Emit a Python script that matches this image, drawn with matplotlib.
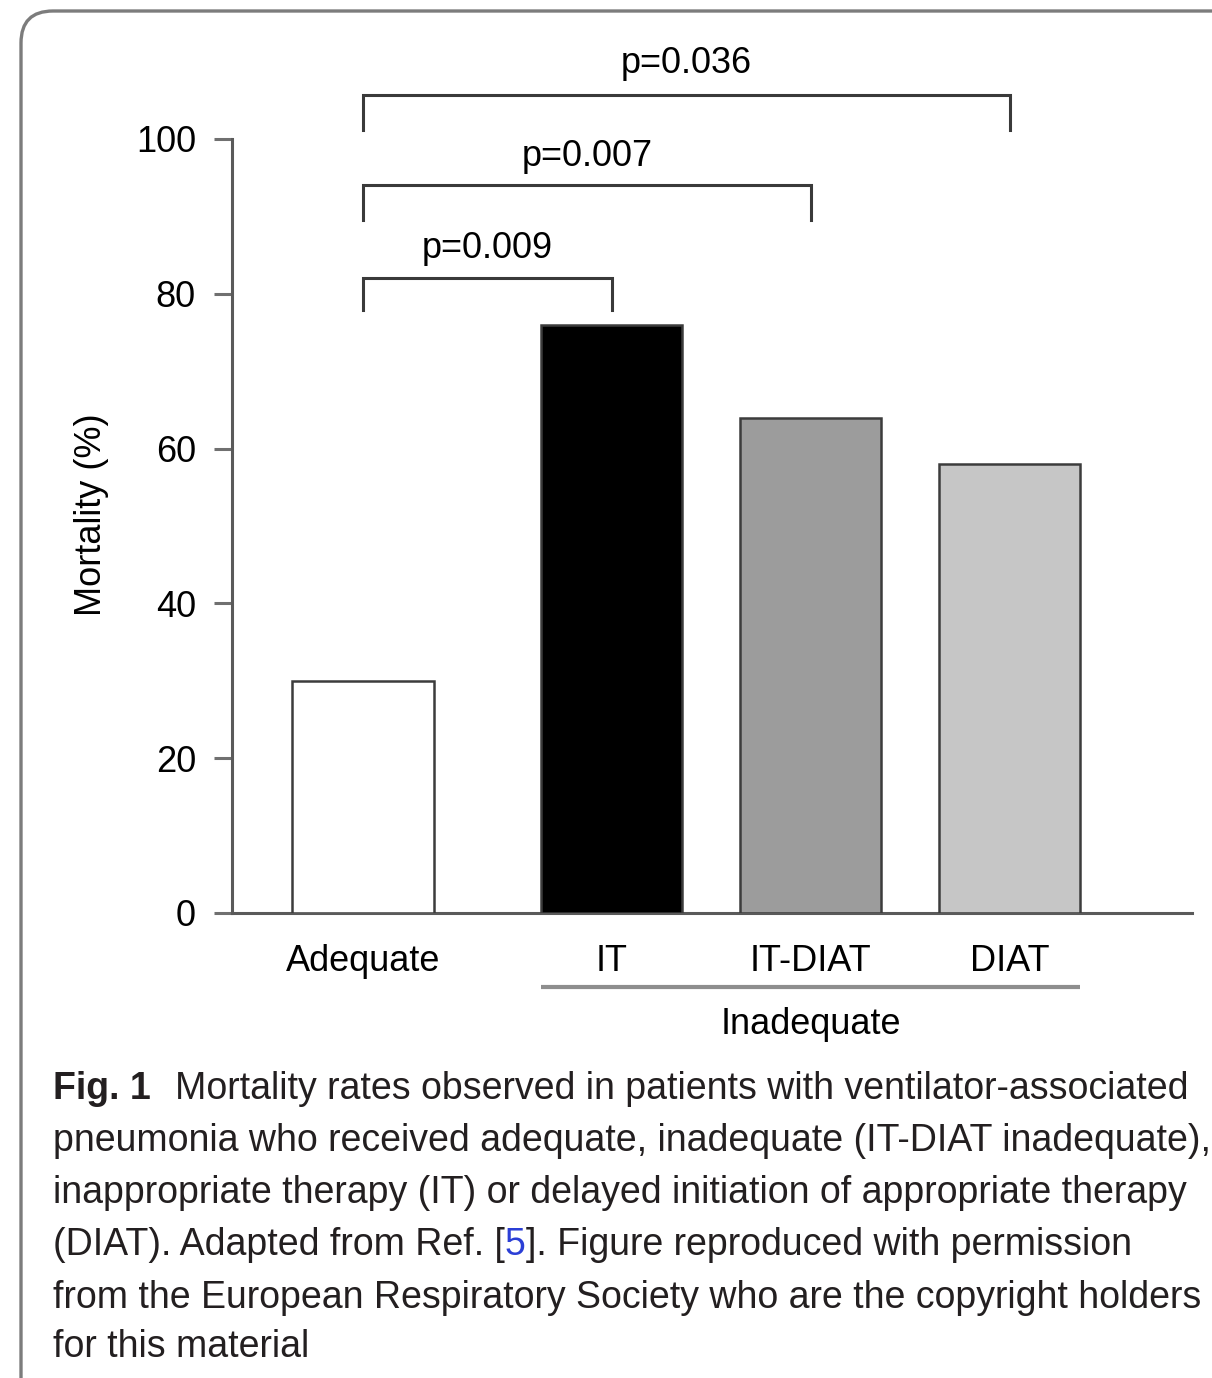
import matplotlib
matplotlib.use("Agg")
import matplotlib.pyplot as plt
from matplotlib.patches import FancyBboxPatch
from matplotlib.transforms import IdentityTransform

# mortality (%) per therapy group
groups = ["Adequate", "IT", "IT-DIAT", "DIAT"]
mortality = [30, 76, 64, 58]
bar_colors = ["#ffffff", "#000000", "#9c9c9c", "#c6c6c6"]

# pairwise comparisons against the adequate group
comparisons = [("IT", "p=0.009"), ("IT-DIAT", "p=0.007"), ("DIAT", "p=0.036")]

caption_lines = [
    "Mortality rates observed in patients with ventilator-associated",
    "pneumonia who received adequate, inadequate (IT-DIAT inadequate),",
    "inappropriate therapy (IT) or delayed initiation of appropriate therapy",
    None,
    "from the European Respiratory Society who are the copyright holders",
    "for this material",
]
ref_line = ["(DIAT). Adapted from Ref. [", "5", "]. Figure reproduced with permission"]

W, H = 1212, 1378
fig = plt.figure(figsize=(W / 100, H / 100), dpi=100)

chart_font = ["Liberation Sans", "DejaVu Sans"]
cap_font = ["Liberation Sans", "DejaVu Sans"]

# rounded frame around the figure panel
frame = FancyBboxPatch((21, -100), 1400, H - 11 + 100,
                       boxstyle="round,pad=0,rounding_size=32",
                       transform=IdentityTransform(), fill=False,
                       edgecolor="#7c7c7c", linewidth=2.4)
fig.patches.append(frame)

ax = fig.add_axes([232 / W, (H - 913) / H, 960 / W, 774 / H])
pos = [0, 1.25, 2.25, 3.25]
width = 0.71
ax.bar(pos, mortality, width=width, color=bar_colors,
       edgecolor="#3c3c3c", linewidth=1.8, zorder=3)

ax.set_xlim(-0.658, 4.166)
ax.set_ylim(0, 100)
ax.set_yticks([0, 20, 40, 60, 80, 100])
ax.set_xticks(pos)
ax.set_xticklabels(groups)
for s in ["top", "right"]:
    ax.spines[s].set_visible(False)
for s in ["left", "bottom"]:
    ax.spines[s].set_color("#5a5a5a")
    ax.spines[s].set_linewidth(2.2)
ax.tick_params(axis="y", length=13, width=2.2, color="#707070", pad=13,
               labelsize=26)
ax.tick_params(axis="x", length=0, pad=22, labelsize=26)
for lab in ax.get_xticklabels() + ax.get_yticklabels():
    lab.set_family(chart_font)

ax.set_ylabel("Mortality (%)", fontsize=26, family=chart_font)
ax.yaxis.set_label_coords(-0.128, 0.515)

# significance brackets
bracket_levels = [(82.0, 77.9, 84.6), (94.1, 89.5, 96.5), (105.7, 101.2, 108.5)]
for (grp, label), (top, drop, ty) in zip(comparisons, bracket_levels):
    x0 = pos[0]
    x1 = pos[groups.index(grp)]
    ax.plot([x0, x0, x1, x1], [drop, top, top, drop], color="#3a3a3a",
            linewidth=2.2, clip_on=False, solid_joinstyle="miter")
    ax.text((x0 + x1) / 2, ty, label, ha="center", va="baseline",
            fontsize=26, family=chart_font)

# grouping line for the inadequate therapies
ax.plot([pos[1] - width / 2, pos[3] + width / 2], [-9.6, -9.6],
        color="#8e8e8e", linewidth=3, clip_on=False, solid_capstyle="butt")
ax.text(pos[2], -15.6, "Inadequate", ha="center", va="baseline",
        fontsize=26, family=chart_font)

# caption
cap_color = "#231f20"
baselines = [1099, 1151, 1203, 1255, 1308, 1357]
cap_size = 27
fig.canvas.draw()
renderer = fig.canvas.get_renderer()

def put(x, y, s, **kw):
    t = fig.text(x / W, 1 - y / H, s, ha="left", va="baseline",
                 fontsize=cap_size, family=cap_font, **kw)
    return t.get_window_extent(renderer).x1

for i, (line, base) in enumerate(zip(caption_lines, baselines)):
    if i == 0:
        put(53, base, "Fig. 1", weight="bold", color=cap_color)
        put(175, base, line, color=cap_color)
    elif line is None:
        x = put(53, base, ref_line[0], color=cap_color)
        x = put(x, base, ref_line[1], color="#2b3fd6")
        put(x, base, ref_line[2], color=cap_color)
    else:
        put(53, base, line, color=cap_color)

fig.savefig("out.png", dpi=100)
